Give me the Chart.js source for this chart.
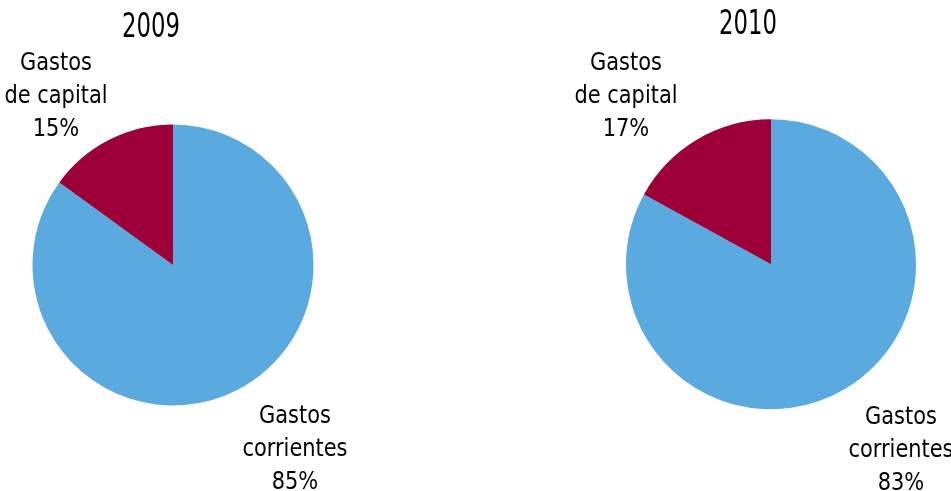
<!DOCTYPE html>
<html>
<head>
<meta charset="utf-8">
<script src="https://cdn.jsdelivr.net/npm/chart.js@4/dist/chart.umd.min.js"></script>
<style>
  html, body { margin: 0; padding: 0; background: #ffffff; }
  #wrap { position: relative; width: 951px; height: 491px; overflow: hidden; }
  #wrap canvas { position: absolute; left: 0; top: 0; }
</style>
</head>
<body>
<div id="wrap">
  <canvas id="c2009" width="951" height="491"></canvas>
  <canvas id="c2010" width="951" height="491"></canvas>
</div>
<script>
const categories = ['Gastos corrientes', 'Gastos de capital'];
const labelLines = [['Gastos', 'corrientes'], ['Gastos', 'de capital']];
const years = ['2009', '2010'];
const values2009 = [85, 15];
const values2010 = [83, 17];
const sliceColors = ['#5BAADF', '#9D0039'];

const FONT_FAMILY = "'Liberation Sans Narrow', 'DejaVu Sans Condensed', 'Arial Narrow', sans-serif";

function drawNarrow(ctx, text, x, y, sx) {
  ctx.save();
  ctx.translate(x, y);
  ctx.scale(sx, 1);
  ctx.fillText(text, 0, 0);
  ctx.restore();
}

const pieTextPlugin = {
  id: 'pieText',
  afterDraw(chart, args, opts) {
    const meta = chart.getDatasetMeta(0);
    if (!meta.data.length) return;
    const cx = meta.data[0].x, cy = meta.data[0].y;
    const ctx = chart.ctx;
    ctx.save();
    ctx.fillStyle = '#000000';
    ctx.textAlign = 'center';
    ctx.textBaseline = 'alphabetic';
    // title
    ctx.font = '33px ' + FONT_FAMILY;
    const tsx = 58 / ctx.measureText('2009').width;
    drawNarrow(ctx, opts.title, cx + opts.titleOffset[0], cy + opts.titleOffset[1], tsx);
    // labels
    ctx.font = '24px ' + FONT_FAMILY;
    const lsx = 105 / ctx.measureText('corrientes').width;
    const values = chart.data.datasets[0].data;
    values.forEach((v, i) => {
      const lines = labelLines[i].concat([v + '%']);
      const off = opts.labelOffsets[i];
      lines.forEach((t, j) => {
        drawNarrow(ctx, t, cx + off[0], cy + off[1] + j * opts.lineHeight, lsx);
      });
    });
    ctx.restore();
  }
};

function makePie(id, title, values, padding, titleOffset, labelOffsets) {
  return new Chart(document.getElementById(id), {
    type: 'pie',
    data: {
      labels: categories,
      datasets: [{
        data: values,
        backgroundColor: sliceColors,
        borderWidth: 0,
        hoverOffset: 0,
        offset: 0
      }]
    },
    options: {
      responsive: false,
      devicePixelRatio: 1,
      animation: false,
      events: [],
      rotation: 0,
      layout: { padding: padding },
      plugins: {
        legend: { display: false },
        title: { display: false },
        tooltip: { enabled: false },
        pieText: {
          title: title,
          titleOffset: titleOffset,
          labelOffsets: labelOffsets,
          lineHeight: 33
        }
      }
    },
    plugins: [pieTextPlugin]
  });
}

makePie('c2009', years[0], values2009,
  { left: 32.5, top: 124.5, right: 637.5, bottom: 85.5 },
  [-22, -228],
  [[122, 158], [-117, -195]]);

makePie('c2010', years[1], values2010,
  { left: 626, top: 119.3, right: 35, bottom: 81.7 },
  [-23, -230],
  [[130, 160], [-145, -194]]);
</script>
</body>
</html>
